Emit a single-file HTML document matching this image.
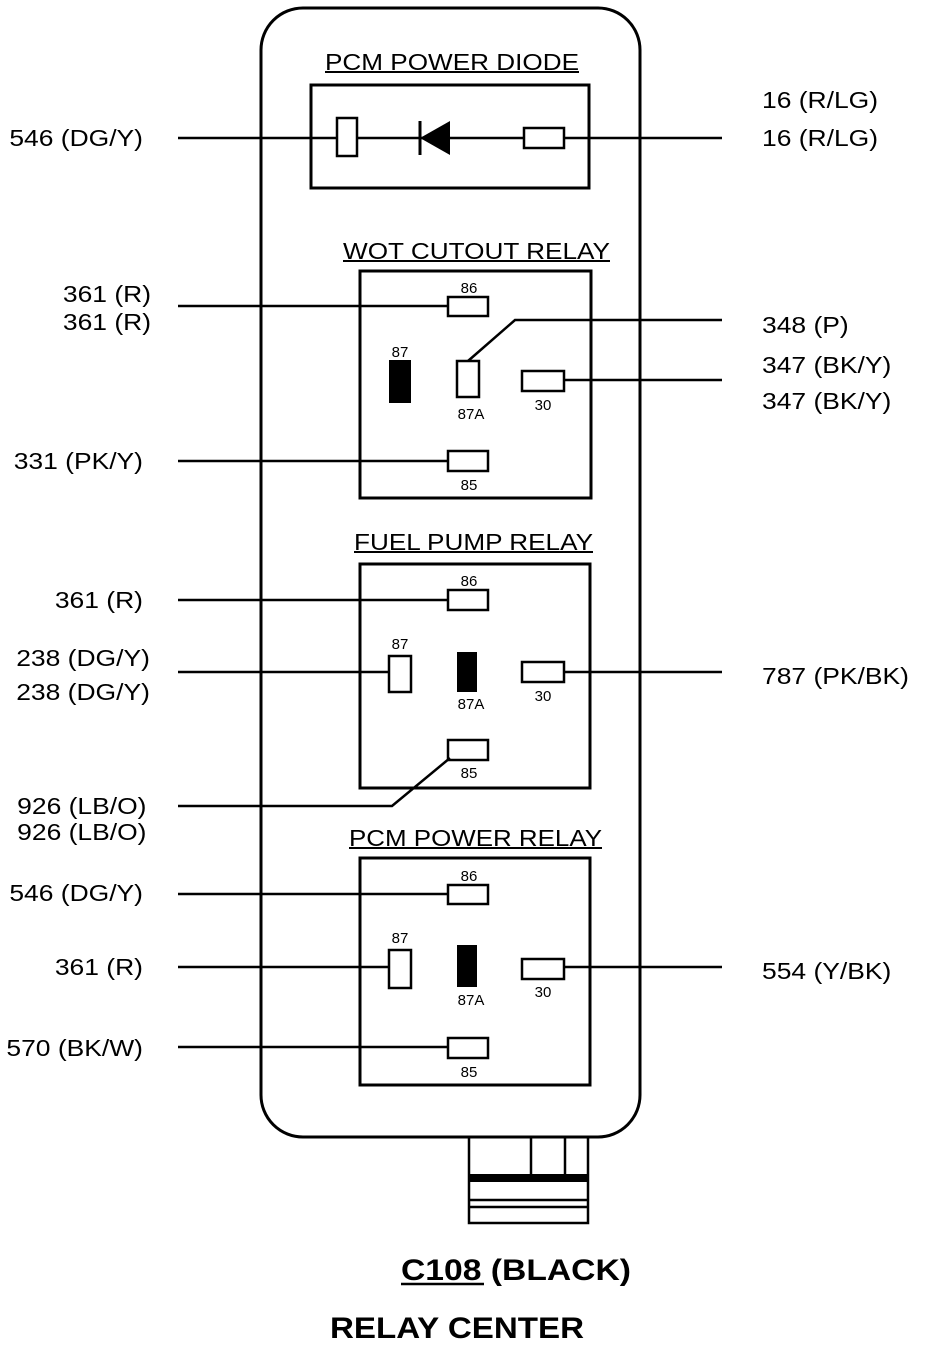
<!DOCTYPE html>
<html><head><meta charset="utf-8"><style>
html,body{margin:0;padding:0;background:#fff;}
svg{display:block;}
text{font-family:"Liberation Sans",Arial,sans-serif;fill:#000;}
.l{font-size:23px;}
.t{font-size:23px;}
.p{font-size:15px;text-anchor:middle;}
</style></head><body>
<svg width="928" height="1346" viewBox="0 0 928 1346" xmlns="http://www.w3.org/2000/svg">
<g fill="none" stroke="#000" stroke-width="3">
<rect x="261" y="8" width="379" height="1129" rx="42"/>
<rect x="311" y="85" width="278" height="103"/>
<rect x="360" y="271" width="231" height="227"/>
<rect x="360" y="564" width="230" height="224"/>
<rect x="360" y="858" width="230" height="227"/>
</g>
<g stroke="#000" stroke-width="2.5" fill="none">
<line x1="178" y1="138" x2="337" y2="138"/><line x1="357" y1="138" x2="524" y2="138"/><line x1="564" y1="138" x2="722" y2="138"/>
<rect x="337" y="118" width="20" height="38" fill="#fff"/>
<rect x="524" y="128" width="40" height="20" fill="#fff"/>
<line x1="178" y1="306" x2="448" y2="306"/>
<polyline points="468,361 515,320 722,320"/>
<line x1="564" y1="380" x2="722" y2="380"/>
<line x1="178" y1="461" x2="448" y2="461"/>
<rect x="448" y="297" width="40" height="19"/>
<rect x="457" y="361" width="22" height="36"/>
<rect x="522" y="371" width="42" height="20"/>
<rect x="448" y="451" width="40" height="20"/>
<line x1="178" y1="600" x2="448" y2="600"/>
<line x1="178" y1="672" x2="389" y2="672"/>
<line x1="564" y1="672" x2="722" y2="672"/>
<polyline points="178,806 392,806 450,758"/>
<rect x="448" y="590" width="40" height="20"/>
<rect x="389" y="656" width="22" height="36"/>
<rect x="522" y="662" width="42" height="20"/>
<rect x="448" y="740" width="40" height="20"/>
<line x1="178" y1="894" x2="448" y2="894"/>
<line x1="178" y1="967" x2="389" y2="967"/>
<line x1="564" y1="967" x2="722" y2="967"/>
<line x1="178" y1="1047" x2="448" y2="1047"/>
<rect x="448" y="885" width="40" height="19"/>
<rect x="389" y="950" width="22" height="38"/>
<rect x="522" y="959" width="42" height="20"/>
<rect x="448" y="1038" width="40" height="20"/>
<rect x="469" y="1137" width="119" height="86"/>
<line x1="531" y1="1137" x2="531" y2="1175"/>
<line x1="565" y1="1137" x2="565" y2="1175"/>
<line x1="469" y1="1200" x2="588" y2="1200"/>
<line x1="469" y1="1207" x2="588" y2="1207"/>
</g>
<rect x="469" y="1174" width="119" height="8" fill="#000"/>
<polygon points="420,138 450,121 450,155" fill="#000"/>
<line x1="420" y1="121" x2="420" y2="155" stroke="#000" stroke-width="3"/>
<rect x="389" y="360" width="22" height="43" fill="#000"/>
<rect x="457" y="652" width="20" height="40" fill="#000"/>
<rect x="457" y="945" width="20" height="42" fill="#000"/>
<g class="t">
<text x="325" y="70" textLength="254" lengthAdjust="spacingAndGlyphs">PCM POWER DIODE</text>
<text x="343" y="259" textLength="267" lengthAdjust="spacingAndGlyphs">WOT CUTOUT RELAY</text>
<text x="354" y="550" textLength="239" lengthAdjust="spacingAndGlyphs">FUEL PUMP RELAY</text>
<text x="349" y="846" textLength="253" lengthAdjust="spacingAndGlyphs">PCM POWER RELAY</text>
</g>
<g stroke="#000" stroke-width="2">
<line x1="325" y1="72" x2="579" y2="72"/>
<line x1="343" y1="261" x2="610" y2="261"/>
<line x1="354" y1="552" x2="593" y2="552"/>
<line x1="349" y1="848" x2="602" y2="848"/>
</g>
<g class="p">
<text x="469" y="293">86</text><text x="400" y="357">87</text><text x="471" y="419">87A</text><text x="543" y="410">30</text><text x="469" y="490">85</text>
<text x="469" y="586">86</text><text x="400" y="649">87</text><text x="471" y="709">87A</text><text x="543" y="701">30</text><text x="469" y="778">85</text>
<text x="469" y="881">86</text><text x="400" y="943">87</text><text x="471" y="1005">87A</text><text x="543" y="997">30</text><text x="469" y="1077">85</text>
</g>
<g class="l" text-anchor="end" transform="translate(143,0) scale(1.15,1) translate(-143,0)">
<text x="143" y="146">546 (DG/Y)</text>
<text x="150" y="302">361 (R)</text>
<text x="150" y="330">361 (R)</text>
<text x="143" y="469">331 (PK/Y)</text>
<text x="143" y="608">361 (R)</text>
<text x="149" y="666">238 (DG/Y)</text>
<text x="149" y="700">238 (DG/Y)</text>
<text x="146" y="814">926 (LB/O)</text>
<text x="146" y="840">926 (LB/O)</text>
<text x="143" y="901">546 (DG/Y)</text>
<text x="143" y="975">361 (R)</text>
<text x="143" y="1056">570 (BK/W)</text>
</g>
<g class="l" transform="translate(762,0) scale(1.15,1) translate(-762,0)">
<text x="762" y="108">16 (R/LG)</text>
<text x="762" y="146">16 (R/LG)</text>
<text x="762" y="333">348 (P)</text>
<text x="762" y="373">347 (BK/Y)</text>
<text x="762" y="409">347 (BK/Y)</text>
<text x="762" y="684">787 (PK/BK)</text>
<text x="762" y="979">554 (Y/BK)</text>
</g>
<text x="401" y="1280" font-size="30" font-weight="bold" textLength="230" lengthAdjust="spacingAndGlyphs">C108 (BLACK)</text>
<line x1="401" y1="1284" x2="484" y2="1284" stroke="#000" stroke-width="2.5"/>
<text x="330" y="1338" font-size="30" font-weight="bold" textLength="254" lengthAdjust="spacingAndGlyphs">RELAY CENTER</text>
</svg>
</body></html>
